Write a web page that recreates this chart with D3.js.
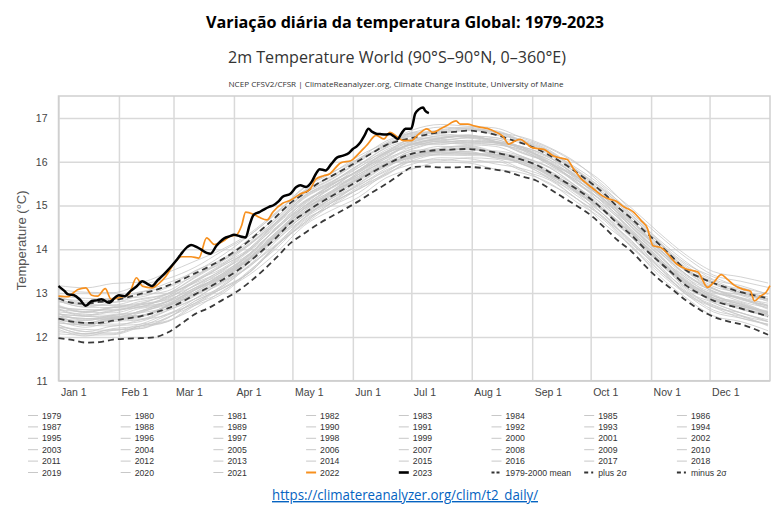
<!DOCTYPE html>
<html>
<head>
<meta charset="utf-8">
<script src="https://cdn.jsdelivr.net/npm/d3@7"></script>
<style>
  html, body { margin: 0; padding: 0; background: #fff; }
  svg { display: block; }
</style>
</head>
<body>
<div id="chart"></div>
<script>
// month starts (day of year) and their labels
const monthStarts = [0, 31, 59, 90, 120, 151, 181, 212, 243, 273, 304, 334];
const monthLabels = ["Jan 1", "Feb 1", "Mar 1", "Apr 1", "May 1", "Jun 1", "Jul 1", "Aug 1", "Sep 1", "Oct 1", "Nov 1", "Dec 1"];
const tempTicks = [11, 12, 13, 14, 15, 16, 17];

// 1979-2000 mean and +/- 2 sigma, read every 7 days
const statDays = [0, 7, 14, 21, 28, 35, 42, 49, 56, 63, 70, 77, 84, 91, 98, 105, 112, 119, 126, 133, 140, 147, 154, 161, 168, 175, 182, 189, 196, 203, 210, 217, 224, 231, 238, 245, 252, 259, 266, 273, 280, 287, 294, 301, 308, 315, 322, 329, 336, 343, 350, 357, 364];
const meanTemp = [12.42, 12.35, 12.32, 12.32, 12.37, 12.42, 12.47, 12.55, 12.65, 12.79, 12.97, 13.13, 13.30, 13.49, 13.72, 13.99, 14.28, 14.60, 14.82, 15.03, 15.21, 15.39, 15.57, 15.76, 15.93, 16.08, 16.19, 16.24, 16.27, 16.28, 16.29, 16.26, 16.21, 16.14, 16.04, 15.93, 15.76, 15.56, 15.37, 15.15, 14.88, 14.58, 14.32, 14.00, 13.72, 13.45, 13.17, 12.98, 12.83, 12.73, 12.65, 12.56, 12.47];
const plus2Temp = [12.88, 12.78, 12.76, 12.80, 12.83, 12.90, 12.98, 13.06, 13.17, 13.30, 13.45, 13.60, 13.77, 13.97, 14.20, 14.48, 14.76, 15.06, 15.27, 15.50, 15.67, 15.84, 16.02, 16.20, 16.38, 16.48, 16.55, 16.62, 16.67, 16.68, 16.71, 16.68, 16.62, 16.52, 16.42, 16.30, 16.14, 15.96, 15.75, 15.52, 15.27, 14.96, 14.70, 14.40, 14.12, 13.82, 13.52, 13.36, 13.23, 13.12, 13.02, 12.95, 12.88];
const minus2Temp = [11.97, 11.93, 11.87, 11.88, 11.94, 11.96, 11.97, 11.99, 12.10, 12.30, 12.52, 12.66, 12.84, 13.02, 13.25, 13.52, 13.82, 14.14, 14.36, 14.57, 14.75, 14.92, 15.10, 15.30, 15.49, 15.70, 15.88, 15.89, 15.87, 15.87, 15.88, 15.86, 15.82, 15.76, 15.66, 15.57, 15.38, 15.18, 14.99, 14.78, 14.50, 14.20, 13.95, 13.62, 13.32, 13.08, 12.83, 12.62, 12.46, 12.36, 12.29, 12.18, 12.05];

// 2022 (orange)
const days2022 = [0, 3, 5, 8, 10, 14, 17, 20, 24, 27, 31, 36, 40, 43, 48, 51, 55, 60, 63, 68, 72, 76, 80, 85, 88, 91, 94, 96, 100, 103, 107, 110, 115, 119, 124, 129, 132, 136, 139, 145, 150, 153, 158, 163, 167, 170, 174, 177, 181, 184, 189, 192, 196, 199, 204, 206, 210, 213, 216, 220, 225, 228, 231, 234, 237, 240, 243, 246, 249, 254, 258, 261, 264, 268, 271, 275, 279, 283, 286, 290, 295, 299, 302, 305, 309, 312, 317, 322, 328, 333, 336, 340, 343, 347, 351, 355, 357, 360, 363, 365];
const temp2022 = [12.93, 12.92, 12.92, 13.02, 13.08, 13.12, 12.95, 12.93, 13.10, 12.86, 12.90, 12.97, 13.35, 13.16, 13.12, 13.20, 13.38, 13.72, 13.83, 13.83, 13.80, 14.26, 14.11, 14.20, 14.30, 14.32, 14.55, 14.85, 14.80, 14.73, 14.67, 14.85, 15.05, 15.12, 15.26, 15.37, 15.60, 15.68, 15.72, 15.98, 16.02, 16.14, 16.37, 16.60, 16.52, 16.67, 16.56, 16.48, 16.48, 16.60, 16.75, 16.67, 16.75, 16.82, 16.93, 16.86, 16.86, 16.82, 16.79, 16.76, 16.66, 16.58, 16.40, 16.47, 16.51, 16.42, 16.32, 16.30, 16.28, 16.13, 16.08, 16.05, 15.85, 15.62, 15.50, 15.36, 15.22, 15.14, 15.10, 14.97, 14.85, 14.65, 14.49, 14.08, 14.04, 13.92, 13.67, 13.55, 13.48, 13.13, 13.24, 13.42, 13.32, 13.17, 13.09, 13.04, 12.82, 12.93, 13.02, 13.17];

// 2023 (black), up to early July
const days2023 = [0, 3, 5, 8, 11, 14, 17, 20, 22, 26, 29, 31, 34, 37, 40, 43, 46, 48, 51, 53, 56, 58, 61, 63, 66, 68, 71, 73, 76, 78, 81, 85, 88, 90, 93, 96, 98, 100, 103, 105, 108, 110, 113, 115, 119, 122, 124, 127, 130, 132, 134, 137, 140, 143, 146, 149, 151, 153, 155, 157, 159, 161, 163, 165, 168, 170, 172, 174, 176, 178, 181, 183, 185, 187, 188, 190];
const temp2023 = [13.16, 13.05, 12.97, 12.95, 12.85, 12.71, 12.82, 12.84, 12.86, 12.78, 12.90, 12.95, 12.93, 13.05, 13.15, 13.27, 13.20, 13.16, 13.30, 13.38, 13.52, 13.62, 13.78, 13.90, 14.05, 14.10, 14.05, 14.00, 13.92, 13.90, 14.08, 14.25, 14.30, 14.33, 14.30, 14.27, 14.55, 14.78, 14.85, 14.90, 14.97, 15.00, 15.10, 15.20, 15.27, 15.42, 15.46, 15.42, 15.55, 15.72, 15.83, 15.80, 15.95, 16.10, 16.14, 16.20, 16.29, 16.35, 16.45, 16.60, 16.75, 16.68, 16.64, 16.63, 16.62, 16.63, 16.58, 16.52, 16.65, 16.75, 16.76, 17.10, 17.20, 17.24, 17.17, 17.11];

// individual years 1979-2021 (grey), read every 14 days
const grayYears = [1979, 1980, 1981, 1982, 1983, 1984, 1985, 1986, 1987, 1988, 1989, 1990, 1991, 1992, 1993, 1994, 1995, 1996, 1997, 1998, 1999, 2000, 2001, 2002, 2003, 2004, 2005, 2006, 2007, 2008, 2009, 2010, 2011, 2012, 2013, 2014, 2015, 2016, 2017, 2018, 2019, 2020, 2021];
const grayDays = [0, 14, 28, 42, 56, 70, 84, 98, 112, 126, 140, 154, 168, 182, 196, 210, 224, 238, 252, 266, 280, 294, 308, 322, 336, 350, 364];
const grayTemps = [
  [12.12, 12.07, 12.17, 12.19, 12.43, 12.82, 13.10, 13.47, 14.10, 14.70, 15.06, 15.37, 15.75, 16.09, 16.15, 16.14, 16.13, 15.94, 15.71, 15.29, 14.86, 14.27, 13.72, 13.12, 12.85, 12.63, 12.50],
  [12.37, 12.32, 12.29, 12.35, 12.60, 12.87, 13.28, 13.77, 14.23, 14.72, 15.16, 15.59, 15.89, 16.11, 16.25, 16.32, 16.16, 15.94, 15.64, 15.31, 14.78, 14.17, 13.64, 13.05, 12.78, 12.55, 12.39],
  [12.32, 12.27, 12.39, 12.45, 12.70, 12.97, 13.22, 13.70, 14.33, 14.82, 15.15, 15.55, 15.97, 16.19, 16.22, 16.19, 16.17, 16.06, 15.73, 15.29, 14.86, 14.35, 13.68, 13.19, 12.78, 12.55, 12.35],
  [12.27, 12.12, 12.09, 12.25, 12.35, 12.72, 13.12, 13.47, 14.08, 14.67, 14.99, 15.39, 15.81, 16.03, 16.17, 16.17, 16.13, 15.99, 15.74, 15.39, 14.85, 14.37, 13.80, 13.22, 12.93, 12.77, 12.55],
  [12.62, 12.57, 12.55, 12.69, 12.80, 13.07, 13.42, 13.77, 14.36, 14.84, 15.19, 15.61, 15.93, 16.14, 16.25, 16.21, 16.09, 15.98, 15.66, 15.22, 14.78, 14.14, 13.60, 12.97, 12.68, 12.43, 12.29],
  [12.17, 12.02, 12.15, 12.19, 12.45, 12.72, 12.98, 13.50, 14.10, 14.57, 15.01, 15.42, 15.71, 16.01, 16.02, 16.09, 16.06, 15.82, 15.48, 15.15, 14.58, 14.07, 13.40, 12.89, 12.48, 12.35, 12.14],
  [12.07, 12.04, 12.05, 12.22, 12.35, 12.75, 13.02, 13.52, 14.03, 14.64, 14.99, 15.29, 15.73, 15.95, 16.09, 16.07, 15.95, 15.84, 15.61, 15.15, 14.70, 14.07, 13.52, 13.02, 12.61, 12.47, 12.25],
  [12.22, 12.17, 12.15, 12.29, 12.53, 12.77, 13.15, 13.62, 14.10, 14.60, 15.06, 15.47, 15.78, 16.07, 16.19, 16.17, 16.16, 15.94, 15.74, 15.31, 14.88, 14.27, 13.74, 13.22, 12.83, 12.70, 12.55],
  [12.47, 12.42, 12.39, 12.55, 12.77, 13.02, 13.40, 13.87, 14.36, 14.94, 15.39, 15.67, 16.08, 16.39, 16.39, 16.47, 16.43, 16.19, 15.96, 15.49, 15.06, 14.42, 13.87, 13.25, 12.95, 12.70, 12.57],
  [12.57, 12.52, 12.49, 12.65, 12.75, 13.12, 13.38, 13.84, 14.33, 14.92, 15.23, 15.63, 15.93, 16.24, 16.25, 16.31, 16.16, 16.04, 15.68, 15.35, 14.78, 14.27, 13.60, 13.09, 12.68, 12.55, 12.35],
  [12.22, 12.07, 12.19, 12.25, 12.50, 12.77, 13.18, 13.64, 14.13, 14.72, 15.16, 15.45, 15.85, 16.17, 16.21, 16.19, 16.17, 16.04, 15.71, 15.39, 14.85, 14.37, 13.72, 13.13, 12.85, 12.63, 12.47],
  [12.42, 12.37, 12.47, 12.49, 12.73, 13.09, 13.35, 13.72, 14.34, 14.92, 15.25, 15.65, 15.95, 16.17, 16.31, 16.37, 16.23, 16.10, 15.86, 15.42, 15.00, 14.40, 13.76, 13.27, 12.89, 12.67, 12.52],
  [12.47, 12.32, 12.45, 12.49, 12.71, 12.95, 13.34, 13.80, 14.30, 14.88, 15.31, 15.61, 15.93, 16.14, 16.17, 16.23, 16.09, 15.96, 15.61, 15.27, 14.70, 14.20, 13.52, 13.02, 12.73, 12.49, 12.27],
  [12.22, 12.07, 12.07, 12.25, 12.37, 12.65, 13.05, 13.42, 13.93, 14.54, 14.89, 15.19, 15.63, 15.84, 15.99, 15.97, 15.83, 15.74, 15.51, 15.07, 14.66, 14.04, 13.47, 12.97, 12.57, 12.43, 12.29],
  [12.27, 12.12, 12.25, 12.29, 12.43, 12.82, 13.10, 13.47, 14.10, 14.60, 15.06, 15.37, 15.69, 16.01, 16.05, 16.01, 16.01, 15.79, 15.58, 15.15, 14.73, 14.12, 13.58, 12.99, 12.71, 12.49, 12.35],
  [12.32, 12.27, 12.25, 12.39, 12.51, 12.87, 13.25, 13.60, 14.20, 14.78, 15.11, 15.51, 15.91, 16.11, 16.23, 16.29, 16.15, 16.02, 15.78, 15.33, 14.88, 14.37, 13.72, 13.21, 12.81, 12.67, 12.47],
  [12.47, 12.42, 12.42, 12.59, 12.73, 12.99, 13.36, 13.82, 14.32, 14.82, 15.27, 15.67, 15.98, 16.21, 16.35, 16.33, 16.21, 16.09, 15.86, 15.43, 14.90, 14.40, 13.76, 13.17, 12.88, 12.67, 12.45],
  [12.37, 12.22, 12.35, 12.39, 12.61, 12.87, 13.15, 13.64, 14.26, 14.76, 15.09, 15.49, 15.89, 16.11, 16.25, 16.23, 16.11, 15.99, 15.68, 15.35, 14.90, 14.29, 13.72, 13.22, 12.85, 12.71, 12.57],
  [12.47, 12.32, 12.43, 12.49, 12.65, 13.02, 13.38, 13.76, 14.38, 14.94, 15.29, 15.71, 16.03, 16.35, 16.47, 16.44, 16.43, 16.29, 15.96, 15.65, 15.13, 14.64, 14.00, 13.52, 13.21, 12.97, 12.87],
  [12.87, 12.82, 12.79, 12.95, 13.05, 13.42, 13.68, 14.14, 14.63, 15.22, 15.53, 15.93, 16.23, 16.53, 16.55, 16.61, 16.46, 16.32, 15.96, 15.61, 15.03, 14.52, 13.84, 13.35, 12.93, 12.79, 12.55],
  [12.42, 12.27, 12.39, 12.41, 12.65, 12.93, 13.32, 13.78, 14.28, 14.78, 15.23, 15.62, 15.93, 16.14, 16.29, 16.35, 16.21, 16.08, 15.74, 15.40, 14.94, 14.32, 13.76, 13.25, 12.85, 12.71, 12.51],
  [12.44, 12.30, 12.41, 12.47, 12.71, 12.99, 13.26, 13.72, 14.33, 14.84, 15.29, 15.61, 15.93, 16.25, 16.29, 16.27, 16.25, 16.12, 15.79, 15.43, 14.88, 14.36, 13.80, 13.19, 12.89, 12.75, 12.52],
  [12.52, 12.47, 12.45, 12.59, 12.83, 13.11, 13.40, 13.88, 14.48, 14.97, 15.33, 15.75, 16.15, 16.35, 16.47, 16.43, 16.39, 16.26, 15.92, 15.57, 15.13, 14.50, 13.94, 13.43, 13.03, 12.89, 12.69],
  [12.67, 12.62, 12.59, 12.75, 12.97, 13.23, 13.52, 14.00, 14.52, 15.02, 15.47, 15.79, 16.11, 16.43, 16.47, 16.54, 16.43, 16.32, 16.00, 15.65, 15.10, 14.58, 14.02, 13.42, 13.11, 12.87, 12.73],
  [12.70, 12.56, 12.67, 12.69, 12.91, 13.17, 13.54, 13.90, 14.50, 15.08, 15.41, 15.81, 16.21, 16.41, 16.53, 16.59, 16.45, 16.32, 15.98, 15.63, 15.18, 14.57, 14.00, 13.39, 13.09, 12.85, 12.71],
  [12.64, 12.50, 12.61, 12.67, 12.81, 13.19, 13.48, 13.86, 14.48, 14.98, 15.33, 15.75, 16.07, 16.29, 16.43, 16.41, 16.39, 16.26, 15.92, 15.57, 15.12, 14.50, 13.94, 13.43, 13.03, 12.89, 12.65],
  [12.67, 12.62, 12.63, 12.69, 12.93, 13.29, 13.56, 14.02, 14.62, 15.10, 15.45, 15.87, 16.19, 16.41, 16.55, 16.61, 16.47, 16.34, 16.10, 15.65, 15.20, 14.58, 14.02, 13.51, 13.11, 12.90, 12.77],
  [12.62, 12.48, 12.59, 12.73, 12.85, 13.12, 13.50, 13.96, 14.46, 15.04, 15.47, 15.77, 16.17, 16.47, 16.49, 16.55, 16.51, 16.28, 16.04, 15.69, 15.14, 14.62, 14.06, 13.55, 13.15, 13.01, 12.81],
  [12.87, 12.72, 12.72, 12.77, 12.99, 13.25, 13.62, 13.98, 14.58, 15.06, 15.49, 15.79, 16.19, 16.39, 16.51, 16.47, 16.43, 16.20, 15.96, 15.51, 15.06, 14.44, 13.88, 13.27, 12.97, 12.73, 12.59],
  [12.42, 12.27, 12.41, 12.47, 12.71, 13.07, 13.34, 13.80, 14.40, 14.88, 15.31, 15.71, 16.01, 16.31, 16.43, 16.39, 16.35, 16.12, 15.88, 15.53, 14.98, 14.46, 13.80, 13.29, 12.89, 12.75, 12.51],
  [12.52, 12.47, 12.45, 12.59, 12.81, 13.07, 13.44, 13.90, 14.40, 14.98, 15.41, 15.81, 16.11, 16.41, 16.53, 16.59, 16.47, 16.34, 16.10, 15.67, 15.24, 14.64, 14.10, 13.51, 13.23, 13.01, 12.85],
  [12.82, 12.77, 12.87, 12.91, 13.13, 13.39, 13.76, 14.12, 14.64, 15.22, 15.55, 15.87, 16.27, 16.47, 16.59, 16.55, 16.51, 16.28, 16.04, 15.59, 15.14, 14.52, 13.96, 13.35, 13.05, 12.81, 12.67],
  [12.52, 12.38, 12.49, 12.55, 12.69, 13.07, 13.44, 13.80, 14.40, 14.98, 15.41, 15.71, 16.11, 16.41, 16.43, 16.49, 16.45, 16.22, 15.98, 15.53, 15.08, 14.56, 13.90, 13.31, 13.01, 12.87, 12.63],
  [12.54, 12.40, 12.51, 12.57, 12.81, 13.17, 13.44, 13.90, 14.50, 15.08, 15.41, 15.81, 16.21, 16.51, 16.53, 16.59, 16.55, 16.32, 16.08, 15.73, 15.18, 14.66, 14.00, 13.49, 13.09, 12.95, 12.71],
  [12.70, 12.56, 12.67, 12.73, 12.87, 13.25, 13.62, 13.98, 14.58, 15.16, 15.49, 15.81, 16.23, 16.45, 16.59, 16.57, 16.45, 16.34, 16.10, 15.65, 15.20, 14.68, 14.02, 13.51, 13.21, 12.97, 12.83],
  [12.72, 12.58, 12.69, 12.75, 12.89, 13.27, 13.64, 14.10, 14.60, 15.18, 15.51, 15.91, 16.31, 16.51, 16.63, 16.59, 16.55, 16.42, 16.18, 15.73, 15.28, 14.76, 14.10, 13.59, 13.29, 13.05, 12.91],
  [12.82, 12.68, 12.79, 12.85, 12.99, 13.37, 13.74, 14.10, 14.70, 15.28, 15.61, 16.01, 16.41, 16.61, 16.73, 16.79, 16.67, 16.56, 16.32, 15.97, 15.44, 14.94, 14.38, 13.87, 13.49, 13.37, 13.23],
  [13.17, 13.12, 13.22, 13.25, 13.47, 13.73, 14.00, 14.36, 14.86, 15.34, 15.67, 16.07, 16.37, 16.67, 16.69, 16.75, 16.61, 16.48, 16.14, 15.79, 15.24, 14.72, 14.16, 13.55, 13.25, 13.01, 12.87],
  [12.92, 12.78, 12.89, 13.03, 13.15, 13.51, 13.78, 14.24, 14.74, 15.32, 15.65, 16.05, 16.35, 16.65, 16.67, 16.73, 16.69, 16.46, 16.22, 15.77, 15.32, 14.80, 14.14, 13.63, 13.23, 13.09, 12.85],
  [12.80, 12.74, 12.73, 12.87, 12.99, 13.35, 13.72, 14.18, 14.68, 15.26, 15.59, 15.99, 16.39, 16.59, 16.71, 16.77, 16.63, 16.50, 16.26, 15.81, 15.36, 14.84, 14.18, 13.67, 13.37, 13.13, 12.99],
  [12.94, 12.88, 12.87, 13.01, 13.23, 13.49, 13.86, 14.32, 14.82, 15.40, 15.73, 16.13, 16.43, 16.73, 16.85, 16.81, 16.77, 16.54, 16.30, 15.95, 15.50, 14.88, 14.32, 13.81, 13.41, 13.27, 13.13],
  [13.08, 13.02, 13.01, 13.19, 13.33, 13.59, 13.96, 14.32, 14.84, 15.42, 15.75, 16.07, 16.47, 16.67, 16.79, 16.75, 16.71, 16.48, 16.24, 15.79, 15.34, 14.72, 14.16, 13.55, 13.25, 13.01, 12.87],
  [12.82, 12.68, 12.67, 12.81, 12.93, 13.29, 13.66, 14.02, 14.62, 15.20, 15.53, 15.93, 16.33, 16.63, 16.65, 16.71, 16.67, 16.44, 16.20, 15.85, 15.40, 14.78, 14.22, 13.71, 13.31, 13.17, 12.97]
];

const W = 780, H = 508;
const svg = d3.select("#chart").append("svg").attr("width", W).attr("height", H);

const x = d3.scaleLinear().domain([0, 365]).range([58.5, 770]);
const y = d3.scaleLinear().domain([11, 17.5]).range([380.7, 96]);
const plotW = x(365) - x(0), plotH = y(11) - y(17.5);

// titles
svg.append("text").attr("x", 405).attr("y", 28).attr("text-anchor", "middle")
  .attr("font-family", "Open Sans").attr("font-weight", "bold").attr("font-size", 16)
  .attr("textLength", 398).attr("lengthAdjust", "spacingAndGlyphs").attr("fill", "#000")
  .text("Variação diária da temperatura Global: 1979-2023");
svg.append("text").attr("x", 397).attr("y", 63).attr("text-anchor", "middle")
  .attr("font-family", "Open Sans").attr("font-size", 17).attr("fill", "#333")
  .attr("textLength", 338).attr("lengthAdjust", "spacingAndGlyphs")
  .text("2m Temperature World (90°S–90°N, 0–360°E)");
svg.append("text").attr("x", 396).attr("y", 87).attr("text-anchor", "middle")
  .attr("font-family", "Open Sans").attr("font-size", 7.5).attr("fill", "#333")
  .attr("textLength", 335).attr("lengthAdjust", "spacingAndGlyphs")
  .text("NCEP CFSV2/CFSR | ClimateReanalyzer.org, Climate Change Institute, University of Maine");

// grid + axes
const gx = svg.append("g").attr("transform", `translate(0,${y(11)})`)
  .call(d3.axisBottom(x).tickValues(monthStarts).tickFormat((d, i) => monthLabels[i]).tickSize(-plotH));
gx.select(".domain").remove();
gx.selectAll("line").attr("stroke", "#d9d9d9").attr("stroke-width", 1.5);
gx.selectAll("text").attr("text-anchor", "start").attr("x", 2).attr("y", 15).attr("dy", 0)
  .attr("font-family", "Liberation Sans").attr("font-size", 10.5).attr("fill", "#444");

const gy = svg.append("g").attr("transform", `translate(${x(0)},0)`)
  .call(d3.axisLeft(y).tickValues(tempTicks).tickFormat(d3.format("d")).tickSize(-plotW).tickPadding(11));
gy.select(".domain").remove();
gy.selectAll("line").attr("stroke", "#d9d9d9").attr("stroke-width", 1.5);
gy.selectAll("text").attr("font-family", "Liberation Sans").attr("font-size", 10.5).attr("fill", "#444");

svg.append("rect").attr("x", x(0)).attr("y", y(17.5)).attr("width", plotW).attr("height", plotH)
  .attr("fill", "none").attr("stroke", "#cfcfcf").attr("stroke-width", 1.5);

svg.append("text").attr("transform", `translate(26,${(y(11) + y(17.5)) / 2 + 2}) rotate(-90)`)
  .attr("text-anchor", "middle").attr("font-family", "Liberation Sans").attr("font-size", 13)
  .attr("fill", "#555").text("Temperature (°C)");

// lines
const lineOf = days => d3.line().x((d, i) => x(days[i])).y(d => y(d)).curve(d3.curveMonotoneX);
const plot = svg.append("g");

plot.selectAll(".year").data(grayTemps).join("path").attr("class", "year")
  .attr("d", lineOf(grayDays)).attr("fill", "none")
  .attr("stroke", "#c8c8c8").attr("stroke-width", 1).attr("stroke-opacity", 0.8);

[minus2Temp, meanTemp, plus2Temp].forEach(s => {
  plot.append("path").attr("d", lineOf(statDays)(s)).attr("fill", "none")
    .attr("stroke", "#3a3a3a").attr("stroke-width", 1.8).attr("stroke-dasharray", "6,4");
});

plot.append("path").attr("d", lineOf(days2022)(temp2022)).attr("fill", "none")
  .attr("stroke", "#f7901e").attr("stroke-width", 1.7);
plot.append("path").attr("d", lineOf(days2023)(temp2023)).attr("fill", "none")
  .attr("stroke", "#000").attr("stroke-width", 2.5);

// legend
const legendItems = grayYears.map(yr => ({ label: String(yr), color: "#c8c8c8", width: 1, dash: null }))
  .concat([
    { label: "2022", color: "#f7901e", width: 2, dash: null },
    { label: "2023", color: "#000", width: 2.6, dash: null },
    { label: "1979-2000 mean", color: "#333", width: 1.8, dash: "3,2" },
    { label: "plus 2σ", color: "#333", width: 1.8, dash: "4,3,2,3" },
    { label: "minus 2σ", color: "#333", width: 1.8, dash: "4,3,2,3" }
  ]);
const leg = svg.append("g").selectAll("g").data(legendItems).join("g")
  .attr("transform", (d, i) => `translate(${28 + (i % 8) * 92.7},${415.5 + Math.floor(i / 8) * 11.4})`);
leg.append("line").attr("x1", 0).attr("x2", 10).attr("y1", 0).attr("y2", 0)
  .attr("stroke", d => d.color).attr("stroke-width", d => d.width).attr("stroke-dasharray", d => d.dash);
leg.append("text").attr("x", 14).attr("y", 3).attr("font-family", "Liberation Sans")
  .attr("font-size", 8.7).attr("fill", "#333").text(d => d.label);

// source link
svg.append("text").attr("x", 405).attr("y", 500).attr("text-anchor", "middle")
  .attr("font-family", "Open Sans").attr("font-size", 14).attr("fill", "#0563c1")
  .attr("text-decoration", "underline").attr("textLength", 266).attr("lengthAdjust", "spacingAndGlyphs")
  .text("https://climatereanalyzer.org/clim/t2_daily/");
</script>
</body>
</html>
